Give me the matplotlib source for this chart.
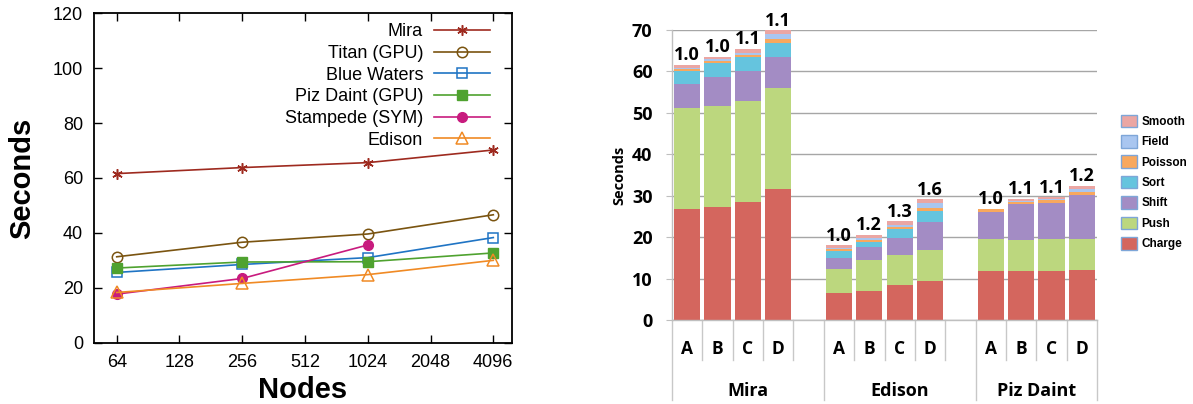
import matplotlib
matplotlib.use("Agg")
import matplotlib.pyplot as plt
from matplotlib.patches import Patch
import numpy as np

# ---------------- Left chart data ----------------
nodes = [64, 256, 1024, 4096]
mira = [61.6, 63.8, 65.6, 70.2]
titan = [31.3, 36.6, 39.6, 46.6]
blue_waters = [25.6, 28.5, 31.0, 38.3]
piz_daint_gpu = [27.2, 29.4, 29.5, 32.7]
stampede_nodes = [64, 256, 1024]
stampede = [17.7, 23.4, 35.6]
edison = [18.3, 21.6, 24.8, 30.0]
x_ticks = [64, 128, 256, 512, 1024, 2048, 4096]

# ---------------- Right chart data ----------------
groups = ["Mira", "Edison", "Piz Daint"]
variants = ["A", "B", "C", "D"]
components = ["Charge", "Push", "Shift", "Sort", "Poisson", "Field", "Smooth"]
# cumulative tops, per group (A, B, C, D)
mira_tops = {
    "Charge": [26.9, 27.3, 28.4, 31.7],
    "Push": [51.2, 51.6, 52.8, 56.0],
    "Shift": [57.0, 58.6, 60.0, 63.4],
    "Sort": [60.2, 62.0, 63.5, 66.9],
    "Poisson": [60.6, 62.5, 64.0, 67.9],
    "Field": [60.9, 63.0, 64.5, 69.0],
    "Smooth": [61.6, 63.6, 65.4, 69.9],
}
edison_tops = {
    "Charge": [6.4, 7.1, 8.4, 9.3],
    "Push": [12.3, 14.5, 15.7, 16.8],
    "Shift": [15.0, 17.7, 19.8, 23.6],
    "Sort": [16.6, 18.9, 21.9, 26.3],
    "Poisson": [17.1, 19.3, 22.4, 27.1],
    "Field": [17.5, 19.8, 23.0, 28.2],
    "Smooth": [18.0, 20.6, 23.8, 29.1],
}
piz_tops = {
    "Charge": [11.8, 11.8, 11.8, 12.0],
    "Push": [19.6, 19.4, 19.6, 19.6],
    "Shift": [26.1, 28.0, 28.3, 30.1],
    "Sort": [26.1, 28.0, 28.3, 30.1],
    "Poisson": [26.7, 28.6, 29.0, 30.9],
    "Field": [26.8, 28.8, 29.2, 31.6],
    "Smooth": [26.9, 29.2, 29.6, 32.4],
}
ratios = [["1.0", "1.0", "1.1", "1.1"],
          ["1.0", "1.2", "1.3", "1.6"],
          ["1.0", "1.1", "1.1", "1.2"]]
comp_colors = {
    "Charge": "#d4665e", "Push": "#bcd77e", "Shift": "#a38cc4",
    "Sort": "#65c4de", "Poisson": "#f8a85e", "Field": "#a9c6f0",
    "Smooth": "#eba6a3",
}

W, H = 1193, 404
fig = plt.figure(figsize=(W / 100, H / 100), dpi=100)

# ================= Left chart =================
axL = fig.add_axes([94.3 / W, 1 - 342.7 / H, (511.7 - 94.3) / W, (342.7 - 13.3) / H])
lf = "Liberation Sans"
series = [
    ("Mira", nodes, mira, "#9e2a1f", dict(marker=(6, 2, 0), mfc="#9e2a1f", ms=7.5, mew=1.1)),
    ("Titan (GPU)", nodes, titan, "#7a5410", dict(marker="o", mfc="none", ms=7.5, mew=1.1)),
    ("Blue Waters", nodes, blue_waters, "#1f74c4", dict(marker="s", mfc="none", ms=7.5, mew=1.1)),
    ("Piz Daint (GPU)", nodes, piz_daint_gpu, "#4fa22f", dict(marker="s", ms=7.5, mew=1.0)),
    ("Stampede (SYM)", stampede_nodes, stampede, "#c81b7e", dict(marker="o", ms=7, mew=1.0)),
    ("Edison", nodes, edison, "#f08a24", dict(marker="^", mfc="none", ms=8, mew=1.1)),
]
for name, xs, ys, c, kw in series:
    axL.plot(xs, ys, color=c, lw=1.2, label=name, **kw)
axL.set_xscale("log", base=2)
axL.set_xlim(2 ** 5.643, 2 ** 12.293)
axL.set_ylim(0, 120)
axL.set_xticks(x_ticks)
axL.set_xticklabels([str(t) for t in x_ticks])
axL.minorticks_off()
axL.set_yticks(range(0, 121, 20))
axL.tick_params(direction="in", top=True, right=True, length=6, width=1.0,
                labelsize=13, pad=8)
for lab in axL.get_xticklabels() + axL.get_yticklabels():
    lab.set_fontfamily(lf)
for s in axL.spines.values():
    s.set_linewidth(1.3)
axL.set_xlabel("Nodes", fontsize=21, fontweight="bold", fontfamily=lf, labelpad=3.5)
axL.set_ylabel("Seconds", fontsize=21, fontweight="bold", fontfamily=lf, labelpad=12)
leg = axL.legend(loc="upper right", bbox_to_anchor=(0.965, 0.991), frameon=False,
                 markerfirst=False, handlelength=3.1, labelspacing=0.255,
                 prop=dict(family=lf, size=13), handletextpad=0.6,
                 borderaxespad=0)
leg._legend_box.align = "right"

# ================= Right chart =================
ax_left, ax_right, ax_bottom, ax_top = 672, 1097, 320, 30
axR = fig.add_axes([ax_left / W, 1 - ax_bottom / H, (ax_right - ax_left) / W,
                    (ax_bottom - ax_top) / H])
rf = "Open Sans"
ppu = 40.24  # pixels per unit
ymax = (ax_bottom - ax_top) / ppu
axR.set_ylim(0, ymax)
axR.set_xlim(-0.5, 13.5)
axR.set_yticks(range(0, 71, 10))
axR.yaxis.grid(True, color="#a6a6a6", lw=1.0)
axR.set_axisbelow(True)
for s in ["top", "right", "bottom"]:
    axR.spines[s].set_visible(False)
axR.spines["left"].set_color("#bfbfbf")
axR.spines["left"].set_linewidth(1.0)
axR.tick_params(axis="y", length=4, color="#bfbfbf", labelsize=13, pad=10)
for lab in axR.get_yticklabels():
    lab.set_fontweight("bold")
    lab.set_fontfamily(rf)
axR.set_xticks([])
axR.set_ylabel("Seconds", fontsize=10.5, fontweight="bold", fontfamily=rf, labelpad=4)

all_tops = [mira_tops, edison_tops, piz_tops]
bw = 0.86
for gi, tops in enumerate(all_tops):
    xs = np.arange(4) + gi * 5
    prev = np.zeros(4)
    for comp in components:
        top = np.array(tops[comp])
        axR.bar(xs, top - prev, bottom=prev, width=bw, color=comp_colors[comp],
                edgecolor="none", zorder=2)
        prev = top
    for j, x in enumerate(xs):
        axR.text(x, prev[j] + 0.2, ratios[gi][j], ha="center", va="bottom",
                 fontsize=13, fontweight="bold", fontfamily=rf, clip_on=False)

# category axis
tr = axR.get_xaxis_transform()
hpx = ax_bottom - ax_top
sep_short = -(360 - ax_bottom) / hpx
sep_long = -(400 - ax_bottom) / hpx
axR.plot([-0.5, 13.5], [0, 0], transform=tr, color="#bfbfbf", lw=1.0, clip_on=False, zorder=3)
for b in np.arange(-0.5, 14.0, 1.0):
    long = b in (-0.5, 4.5, 9.5, 13.5)
    axR.plot([b, b], [0, sep_long if long else sep_short], transform=tr,
             color="#c8c8c8", lw=1.0, clip_on=False)
for gi, g in enumerate(groups):
    for j, v in enumerate(variants):
        axR.text(gi * 5 + j, -(349 - ax_bottom) / hpx, v, transform=tr, ha="center",
                 va="center", fontsize=12.5, fontweight="bold", fontfamily=rf)
    gx = gi * 5 + 2.0 if gi < 2 else gi * 5 + 1.5
    axR.text(gx, -(391 - ax_bottom) / hpx, g, transform=tr, ha="center", va="center",
             fontsize=13, fontweight="bold", fontfamily=rf)

# legend
handles = [Patch(facecolor=comp_colors[c], edgecolor="#7ea6d8", lw=1.0, label=c)
           for c in components[::-1]]
legR = fig.legend(handles=handles, loc="upper left",
                  bbox_to_anchor=(1116 / W, 1 - 110 / H), frameon=False,
                  prop=dict(family=lf, size=8.5, weight="bold"),
                  handlelength=1.41, handleheight=1.27, labelspacing=0.6,
                  handletextpad=0.35, borderaxespad=0)

fig.savefig("out.png", dpi=100)
